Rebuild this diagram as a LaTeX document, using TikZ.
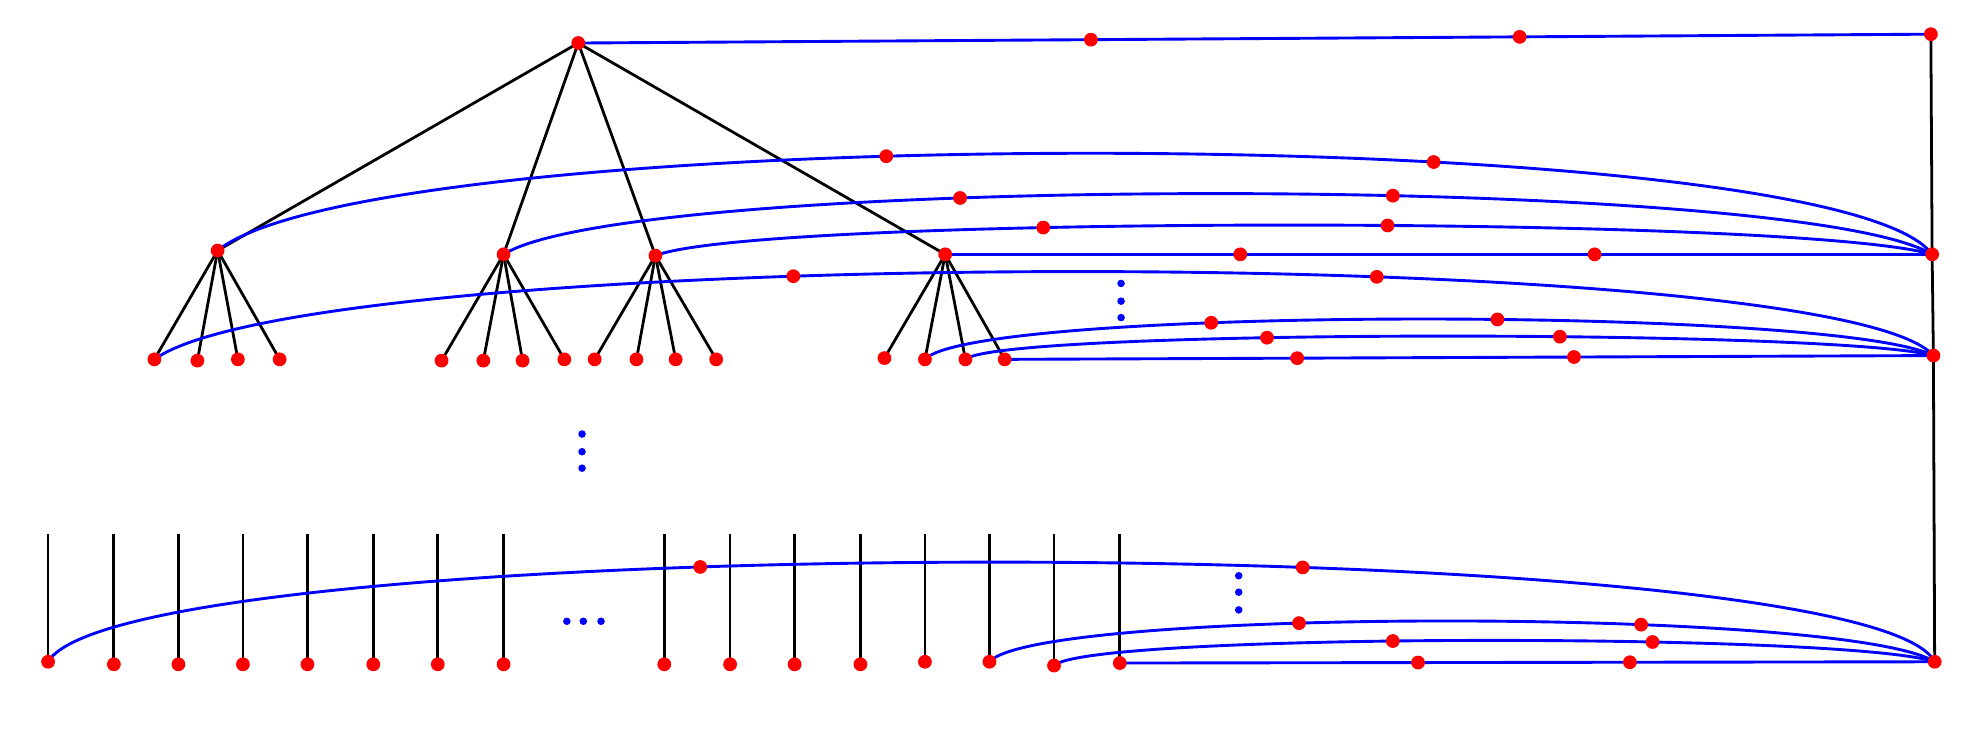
\documentclass[tikz,border=0pt]{standalone}
\begin{document}
\begin{tikzpicture}[x=0.02cm,y=-0.02cm,
  dot/.style={circle,fill=red,draw=none,inner sep=0pt,minimum size=6.2pt},
  ell/.style={circle,fill=blue,draw=none,inner sep=0pt,minimum size=3.4pt},
  tree/.style={draw=black,line width=1.25pt},
  link/.style={draw=blue,line width=1.3pt}]
\useasboundingbox (0,0) rectangle (1568,576);

% ---- vertex positions
\coordinate (R) at (457,34);
\coordinate (T) at (1526,27);
\coordinate (A1) at (172,198);
\coordinate (A2) at (398,201);
\coordinate (A3) at (518,202);
\coordinate (A4) at (747,201);
\coordinate (M1) at (1527,201);
\coordinate (M2) at (1528,281);
\coordinate (B3) at (1529,523);
\foreach \x/\y [count=\i] in {122/284,156/285,188/284,221/284}
  \coordinate (a1\i) at (\x,\y);
\foreach \x/\y [count=\i] in {349/285,382/285,413/285,446/284}
  \coordinate (a2\i) at (\x,\y);
\foreach \x/\y [count=\i] in {470/284,503/284,534/284,566/284}
  \coordinate (a3\i) at (\x,\y);
\foreach \x/\y [count=\i] in {699/283,731/284,763/284,794/284}
  \coordinate (a4\i) at (\x,\y);
\foreach \x/\y [count=\i] in {38/523,90/525,141/525,192/525,243/525,295/525,346/525,398/525,525/525,577/525,628/525,680/525,731/523,782/523,833/526,885/524} {
  \coordinate (b\i) at (\x,\y);
  \coordinate (bt\i) at (\x,422);
}

% ---- black tree edges
\foreach \c in {A1,A2,A3,A4} \draw[tree] (R) -- (\c);
\foreach \p in {1,2,3,4} \foreach \i in {1,2,3,4} \draw[tree] (A\p) -- (a\p\i);
\draw[tree] (T) -- (M1) -- (M2) -- (B3);
\foreach \i in {1,...,16} \draw[tree] (bt\i) -- (b\i);

% ---- blue links
\draw[link] (R) -- (T) node[dot,pos=0.379](t1){} node[dot,pos=0.696](t2){};

\draw[link] (A1) .. controls (300,95) and (1450,95) .. (M1)
  node[dot,pos=0.41](c1a){} node[dot,pos=0.645](c1b){};
\draw[link] (A2) .. controls (500,137) and (1420,137) .. (M1)
  node[dot,pos=0.366](c2a){} node[dot,pos=0.592](c2b){};
\draw[link] (A3) .. controls (600,170) and (1420,170) .. (M1)
  node[dot,pos=0.359](c3a){} node[dot,pos=0.561](c3b){};
\draw[link] (A4) -- (M1) node[dot,pos=0.299](c4a){} node[dot,pos=0.658](c4b){};

\draw[link] (a11) .. controls (250,192) and (1450,192) .. (M2)
  node[dot,pos=0.388](d1a){} node[dot,pos=0.628](d1b){};
\draw[link] (a42) .. controls (770,242) and (1450,242) .. (M2)
  node[dot,pos=0.353](d2a){} node[dot,pos=0.562](d2b){};
\draw[link] (a43) .. controls (790,260) and (1450,260) .. (M2)
  node[dot,pos=0.38](d3a){} node[dot,pos=0.60](d3b){};
\draw[link] (a44) -- (M2) node[dot,pos=0.315](d4a){} node[dot,pos=0.613](d4b){};

\draw[link] (b1) .. controls (100,418) and (1475,418) .. (B3)
  node[dot,pos=0.39](e1a){} node[dot,pos=0.615](e1b){};
\draw[link] (b14) .. controls (820,480) and (1460,480) .. (B3)
  node[dot,pos=0.385](e2a){} node[dot,pos=0.65](e2b){};
\draw[link] (b15) .. controls (860,500) and (1460,500) .. (B3)
  node[dot,pos=0.433](e3a){} node[dot,pos=0.647](e3b){};
\draw[link] (b16) -- (B3) node[dot,pos=0.366](e4a){} node[dot,pos=0.626](e4b){};

% ---- ellipsis dots
\foreach \x/\y [count=\i] in {886/224,886/238,886/251,460/343,460/357,460/370,979/455,979/468,979/482,448/491,461/491,475/491}
  \node[ell] (el\i) at (\x,\y) {};

% ---- vertices
\foreach \n in {R,T,A1,A2,A3,A4,M1,M2,B3}
  \node[dot] (v\n) at (\n) {};
\foreach \p in {1,2,3,4} \foreach \i in {1,2,3,4}
  \node[dot] (va\p\i) at (a\p\i) {};
\foreach \i in {1,...,16}
  \node[dot] (vb\i) at (b\i) {};
\end{tikzpicture}
\end{document}
